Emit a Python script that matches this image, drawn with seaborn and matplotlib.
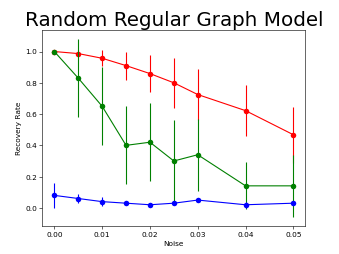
import matplotlib
matplotlib.use("Agg")

import numpy as np
import pandas as pd
import matplotlib.pyplot as plt
import seaborn as sns

# data
noise = [0.0, 0.005, 0.01, 0.015, 0.02, 0.025, 0.03, 0.04, 0.05]

red_mean = [1.0, 0.987, 0.957, 0.91, 0.859, 0.80, 0.725, 0.622, 0.468]
red_err = [0.0, 0.02, 0.05, 0.09, 0.12, 0.16, 0.165, 0.165, 0.18]

green_mean = [1.0, 0.83, 0.65, 0.40, 0.42, 0.30, 0.34, 0.141, 0.141]
green_err = [0.0, 0.25, 0.25, 0.25, 0.25, 0.26, 0.23, 0.15, 0.2]

blue_mean = [0.08, 0.06, 0.04, 0.03, 0.02, 0.03, 0.05, 0.02, 0.03]
blue_err = [0.08, 0.03, 0.03, 0.01, 0.01, 0.01, 0.01, 0.02, 0.01]

series = [("red", red_mean, red_err),
          ("green", green_mean, green_err),
          ("blue", blue_mean, blue_err)]

df = pd.concat([
    pd.DataFrame({"Noise": noise, "Recovery Rate": m, "err": e, "series": name})
    for name, m, e in series
], ignore_index=True)

fig, ax = plt.subplots(figsize=(6.4, 4.8), dpi=53)

for name, m, e in series:
    sub = df[df["series"] == name]
    sns.lineplot(data=sub, x="Noise", y="Recovery Rate", color=name,
                 marker="o", markersize=7.5, markeredgewidth=0, linewidth=1.5,
                 ax=ax, legend=False)
    ax.errorbar(sub["Noise"], sub["Recovery Rate"], yerr=sub["err"],
                fmt="none", ecolor=name, elinewidth=1.5)

ax.set_xticks([0.0, 0.01, 0.02, 0.03, 0.04, 0.05])
ax.set_xticklabels(["0.00", "0.01", "0.02", "0.03", "0.04", "0.05"])
ax.set_title("Random Regular Graph Model", fontsize=27)
ax.set_xlabel("Noise")
ax.set_ylabel("Recovery Rate")

plt.savefig("out.png", dpi=53)
